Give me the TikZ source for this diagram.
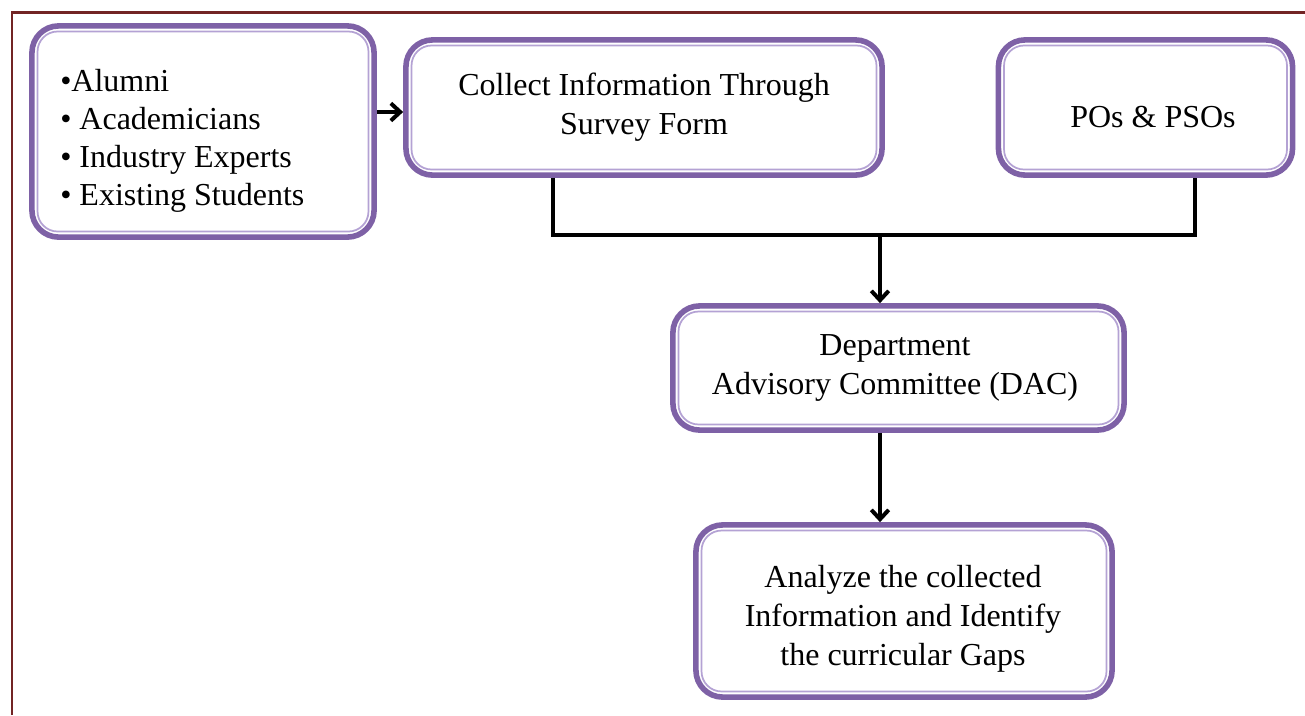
\documentclass[tikz,border=0pt]{standalone}
\usepackage{fontspec}
\setmainfont{Liberation Serif}
\usetikzlibrary{arrows.meta}
\definecolor{pur}{HTML}{7E61A6}
\definecolor{purl}{HTML}{B4A2D4}
\definecolor{brd}{HTML}{722424}
\begin{document}
\begin{tikzpicture}[x=0.75pt,y=-0.75pt,
  box/.style={draw=pur, line width=4.2pt, rounded corners=20pt, fill=white, inner sep=0pt},
  inbox/.style={draw=purl, line width=1.3pt, rounded corners=15pt},
  txt/.style={font=\fontsize{24}{29.25}\selectfont, align=center, inner sep=0pt},
  conn/.style={line width=3pt, black},
  arr/.style={conn, -{Straight Barb[length=7pt,width=13pt]}},
  frame/.style={draw=brd, line width=2.2pt}]
\useasboundingbox (0,0) rectangle (1305,715);
\draw[frame] (12,715) -- (12,12.5) -- (1305,12.5);
% boxes
\node[box, minimum width=256.6pt, minimum height=158.4pt] (b1) at (203,131.5) {};
\node[box, minimum width=357.1pt, minimum height=101.4pt] (b2) at (644,107.5) {};
\node[box, minimum width=220.6pt, minimum height=101.4pt] (b3) at (1145.5,107.5) {};
\node[box, minimum width=338.4pt, minimum height=93.1pt] (b4) at (898.5,368) {};
\node[box, minimum width=312.1pt, minimum height=129.1pt] (b5) at (904,611) {};
\foreach \n in {b1,b2,b3,b4,b5}
  \draw[inbox] ([xshift=6.3pt,yshift=-6.3pt]\n.north west) rectangle ([xshift=-6.3pt,yshift=6.3pt]\n.south east);
% texts
\node[txt, align=left, anchor=west, font=\fontsize{24}{28.5}\selectfont] (t1) at (60,140.5)
  {•Alumni\\• Academicians\\• Industry Experts\\• Existing Students};
\node[txt] (t2) at (644,107) {Collect Information Through\\Survey Form};
\node[txt] (t3) at (1153,117.5) {POs \& PSOs};
\node[txt] (t4) at (895,368) {Department\\Advisory Committee (DAC)};
\node[txt] (t5) at (903,619) {Analyze the collected\\Information and Identify\\the curricular Gaps};
% connectors
\coordinate (ja) at (390,112);
\coordinate (jl) at (553,235);
\coordinate (jr) at (1195,235);
\coordinate (jm) at (880,235);
\draw[arr] (b1.east |- ja) -- (b2.west |- ja);
\draw[conn] (b2.south -| jl) |- (jr) -- (b3.south -| jr);
\draw[arr] (jm) -- (b4.north -| jm);
\draw[arr] (b4.south -| jm) -- (b5.north -| jm);
\end{tikzpicture}
\end{document}
